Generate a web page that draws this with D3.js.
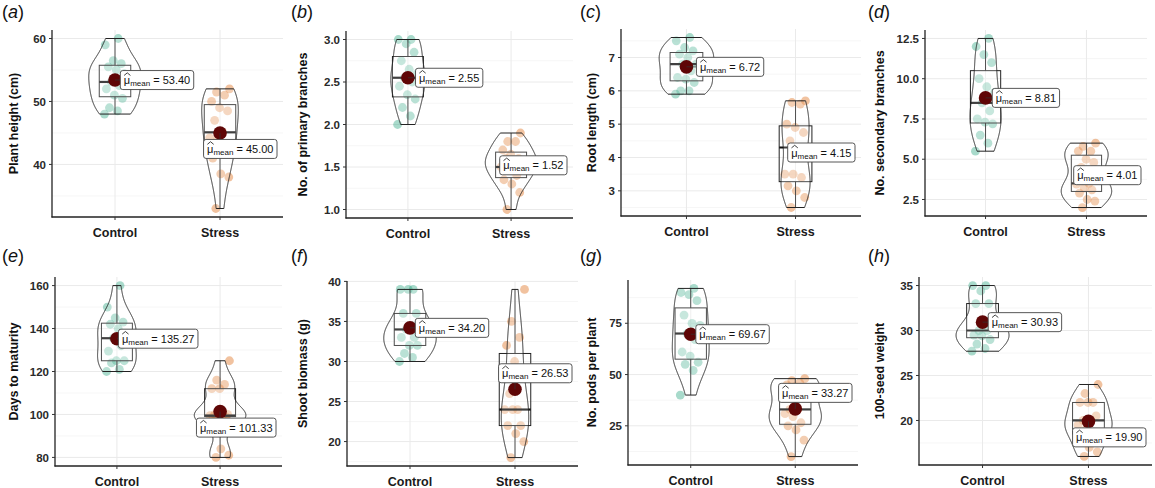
<!DOCTYPE html>
<html><head><meta charset="utf-8">
<script src="https://cdn.jsdelivr.net/npm/d3@7"></script>
<style>
body{margin:0;background:#fff}
svg{display:block}
text{font-family:"Liberation Sans",Arial,Helvetica,sans-serif}
</style>
</head><body>
<svg id="chart" width="1155" height="488"></svg>
<script>
// ---------------- data ----------------
const categories = ["Control", "Stress"];
const panelTags = ["a", "b", "c", "d", "e", "f", "g", "h"];
const yTitles = ["Plant height (cm)", "No. of primary branches", "Root length (cm)", "No. secondary branches",
                 "Days to maturity", "Shoot biomass (g)", "No. pods per plant", "100-seed weight"];

const controlValues = [
  [48, 48.5, 49, 50.5, 51, 52, 52.5, 53.1, 54.4, 55, 55.5, 56, 56.5, 59, 60],
  [2.0, 2.1, 2.2, 2.3, 2.35, 2.45, 2.5, 2.55, 2.6, 2.65, 2.75, 2.85, 2.95, 3.0, 3.0],
  [5.9, 6.0, 6.0, 6.25, 6.35, 6.4, 6.6, 6.8, 6.8, 7.0, 7.1, 7.2, 7.3, 7.5, 7.6],
  [5.5, 6.0, 6.5, 7.2, 7.3, 7.5, 8.0, 8.5, 9.15, 9.5, 10.0, 11.0, 11.5, 12.0, 12.5],
  [120, 121, 124, 125, 125, 129.5, 132, 135.5, 137, 140, 142, 143, 145, 150, 160],
  [30, 30.5, 31, 32, 32, 33, 33, 34, 34, 34.5, 36, 36, 39, 39, 39],
  [40, 52, 55, 56, 59, 61, 67, 70, 74, 75, 79, 86, 89, 90, 92],
  [27.7, 28, 28.5, 29, 29.4, 29.5, 30, 30, 30.5, 31, 33, 33, 34.4, 35, 35]
];
const stressValues = [
  [33, 38, 38.5, 41, 42.2, 44, 44.2, 45.1, 47, 48.5, 49, 50, 51, 51.5, 52],
  [1.0, 1.2, 1.3, 1.35, 1.4, 1.5, 1.5, 1.5, 1.6, 1.6, 1.65, 1.7, 1.8, 1.8, 1.9],
  [2.5, 2.8, 3.0, 3.15, 3.4, 3.5, 3.5, 4.3, 4.5, 4.75, 4.9, 5.0, 5.6, 5.65, 5.7],
  [2.0, 2.4, 2.5, 2.9, 3.1, 3.2, 3.45, 3.5, 4.5, 4.8, 5.0, 5.5, 5.5, 5.8, 6.0],
  [80, 81, 84, 99, 99, 99, 99.5, 99.5, 100, 100, 112, 112, 114, 116, 125],
  [18, 20, 21, 22, 22, 24, 24, 24, 26, 28, 30, 32, 33, 35, 39],
  [10, 18, 23, 25, 26.5, 29.5, 31, 33, 33, 40, 44, 45, 46, 47, 48],
  [16, 16.5, 17, 18.5, 18.5, 19, 19.5, 20, 20, 20.5, 22, 22, 22, 23, 24]
];
const meanValues = [
  [53.40, 45.00], [2.55, 1.52], [6.72, 4.15], [8.81, 4.01],
  [135.27, 101.33], [34.20, 26.53], [69.67, 33.27], [30.93, 19.90]
];
const yTickValues = [
  [40, 50, 60], [1.0, 1.5, 2.0, 2.5, 3.0], [3, 4, 5, 6, 7], [2.5, 5.0, 7.5, 10.0, 12.5],
  [80, 100, 120, 140, 160], [20, 25, 30, 35, 40], [25, 50, 75], [20, 25, 30, 35]
];
const yTickLabels = [
  ["40", "50", "60"], ["1.0", "1.5", "2.0", "2.5", "3.0"], ["3", "4", "5", "6", "7"],
  ["2.5", "5.0", "7.5", "10.0", "12.5"], ["80", "100", "120", "140", "160"],
  ["20", "25", "30", "35", "40"], ["25", "50", "75"], ["20", "25", "30", "35"]
];

// ---------------- layout (pixels) ----------------
const layout = [
  {x0: 0,   y0: 0,   l: 52,  r: 283,  t: 30,  b: 217, shift: [0, 1]},
  {x0: 289, y0: 0,   l: 346, r: 573,  t: 31,  b: 218, shift: [0, 0]},
  {x0: 578, y0: 0,   l: 621, r: 861,  t: 29,  b: 216, shift: [0, 0]},
  {x0: 866, y0: 0,   l: 925, r: 1147, t: 30,  b: 216, shift: [0, 0]},
  {x0: 0,   y0: 244, l: 55,  r: 282,  t: 277, b: 466, shift: [0, 1]},
  {x0: 289, y0: 244, l: 347, r: 578,  t: 281, b: 466, shift: [0, -1]},
  {x0: 578, y0: 244, l: 628, r: 858,  t: 280, b: 465, shift: [0, -1]},
  {x0: 866, y0: 244, l: 919, r: 1152, t: 277, b: 465, shift: [0, 1]}
];
const groupColors = ["#1B9E77", "#D95F02"];

// ---------------- helpers ----------------
function bwNrd0(v) {
  const s = [...v].sort(d3.ascending);
  const sd = d3.deviation(s);
  const iqr = d3.quantileSorted(s, 0.75) - d3.quantileSorted(s, 0.25);
  let lo = Math.min(sd, iqr / 1.34);
  if (!(lo > 0)) lo = sd || Math.abs(s[0]) || 1;
  return 0.9 * lo * Math.pow(s.length, -0.2);
}
function kde(v, bw, ys) {
  const c = 1 / (bw * Math.sqrt(2 * Math.PI));
  return ys.map(y => c * d3.mean(v, x => Math.exp(-0.5 * ((y - x) / bw) ** 2)));
}

const svg = d3.select("#chart");

panelTags.forEach((tag, p) => {
  const L = layout[p];
  const groups = [controlValues[p], stressValues[p]];
  const all = groups.flat();
  const [mn, mx] = d3.extent(all);
  const pad = (mx - mn) * 0.05;
  const y = d3.scaleLinear().domain([mn - pad, mx + pad]).range([L.b, L.t]);
  const x = d3.scalePoint().domain(categories).range([L.l, L.r]).padding(0.6);
  const unit = x.step();

  const g = svg.append("g");

  // grid
  const ticks = yTickValues[p];
  const step = ticks[1] - ticks[0];
  const minor = [];
  for (let v = ticks[0] - step / 2; v <= y.domain()[1]; v += step) {
    if (v >= y.domain()[0]) minor.push(v);
  }
  g.selectAll(".minor").data(minor).join("line")
    .attr("x1", L.l).attr("x2", L.r).attr("y1", d => y(d)).attr("y2", d => y(d))
    .attr("stroke", "#F4F4F4").attr("stroke-width", 0.8);
  g.selectAll(".major").data(ticks).join("line")
    .attr("x1", L.l).attr("x2", L.r).attr("y1", d => y(d)).attr("y2", d => y(d))
    .attr("stroke", "#EAEAEA").attr("stroke-width", 1);
  g.selectAll(".vmajor").data(categories).join("line")
    .attr("x1", d => x(d)).attr("x2", d => x(d)).attr("y1", L.t).attr("y2", L.b)
    .attr("stroke", "#EAEAEA").attr("stroke-width", 1);

  // points
  groups.forEach((vals, gi) => {
    const cx = x(categories[gi]);
    g.selectAll(null).data(vals).join("circle")
      .attr("cx", (d, i) => cx + (((i * 0.618034 + 0.3 * gi) % 1) - 0.5) * 0.2 * unit)
      .attr("cy", d => y(d))
      .attr("r", 4.4)
      .attr("fill", groupColors[gi]).attr("fill-opacity", 0.38);
  });

  // boxplots
  groups.forEach((vals, gi) => {
    const cx = x(categories[gi]);
    const s = [...vals].sort(d3.ascending);
    const q1 = d3.quantileSorted(s, 0.25), med = d3.quantileSorted(s, 0.5), q3 = d3.quantileSorted(s, 0.75);
    const iqr = q3 - q1;
    const lo = d3.min(s.filter(v => v >= q1 - 1.5 * iqr));
    const hi = d3.max(s.filter(v => v <= q3 + 1.5 * iqr));
    const hw = 0.15 * unit;
    g.append("line").attr("x1", cx).attr("x2", cx).attr("y1", y(q3)).attr("y2", y(hi))
      .attr("stroke", "#222").attr("stroke-width", 1);
    g.append("line").attr("x1", cx).attr("x2", cx).attr("y1", y(q1)).attr("y2", y(lo))
      .attr("stroke", "#222").attr("stroke-width", 1);
    g.append("rect").attr("x", cx - hw).attr("width", 2 * hw)
      .attr("y", y(q3)).attr("height", y(q1) - y(q3))
      .attr("fill", "#fff").attr("fill-opacity", 0.2).attr("stroke", "#222").attr("stroke-width", 1);
    g.append("line").attr("x1", cx - hw).attr("x2", cx + hw).attr("y1", y(med)).attr("y2", y(med))
      .attr("stroke", "#111").attr("stroke-width", 2.2);
  });

  // violins (scale = "area": common density max)
  const dens = groups.map(vals => {
    const [a, b] = d3.extent(vals);
    const bw = bwNrd0(vals);
    const ys = d3.range(512).map(i => a + (b - a) * i / 511);
    const ds = kde(vals, bw, ys);
    return ys.map((v, i) => ({v, d: ds[i]}));
  });
  const dmax = d3.max(dens.flat(), e => e.d);
  dens.forEach((arr, gi) => {
    const cx = x(categories[gi]);
    const area = d3.area()
      .y(e => y(e.v))
      .x0(e => cx - e.d / dmax * 0.25 * unit)
      .x1(e => cx + e.d / dmax * 0.25 * unit);
    g.append("path").attr("d", area(arr))
      .attr("fill", "#fff").attr("fill-opacity", 0.2)
      .attr("stroke", "#222").attr("stroke-width", 1).attr("stroke-linejoin", "round");
  });

  // axes
  g.append("line").attr("x1", L.l).attr("x2", L.l).attr("y1", L.t).attr("y2", L.b + 0.5)
    .attr("stroke", "#222").attr("stroke-width", 1.3);
  g.append("line").attr("x1", L.l - 0.5).attr("x2", L.r).attr("y1", L.b).attr("y2", L.b)
    .attr("stroke", "#222").attr("stroke-width", 1.3);
  g.selectAll(".yt").data(ticks).join("line")
    .attr("x1", L.l - 3).attr("x2", L.l).attr("y1", d => y(d)).attr("y2", d => y(d))
    .attr("stroke", "#333").attr("stroke-width", 1);
  g.selectAll(".ytl").data(ticks).join("text")
    .attr("x", L.l - 6).attr("y", d => y(d)).attr("dy", "0.36em")
    .attr("text-anchor", "end").attr("font-size", 11.5).attr("font-weight", "bold").attr("fill", "#2a2a2a")
    .text((d, i) => yTickLabels[p][i]);
  g.selectAll(".xt").data(categories).join("line")
    .attr("x1", d => x(d)).attr("x2", d => x(d)).attr("y1", L.b).attr("y2", L.b + 3)
    .attr("stroke", "#333").attr("stroke-width", 1);
  g.selectAll(".xtl").data(categories).join("text")
    .attr("x", d => x(d)).attr("y", L.b + 20)
    .attr("text-anchor", "middle").attr("font-size", 12.5).attr("font-weight", "bold").attr("fill", "#1a1a1a")
    .text(d => d);

  // y title
  g.append("text")
    .attr("transform", `translate(${L.x0 + 18},${(L.t + L.b) / 2}) rotate(-90)`)
    .attr("text-anchor", "middle").attr("font-size", 12.5).attr("font-weight", "bold").attr("fill", "#111")
    .text(yTitles[p]);

  // panel tag
  const tg = g.append("text").attr("x", L.x0 + 2).attr("y", L.y0 + 18)
    .attr("font-size", 18).attr("fill", "#111");
  tg.append("tspan").text("(");
  tg.append("tspan").attr("font-style", "italic").text(tag);
  tg.append("tspan").text(")");

  // mean points (below) and labels (above)
  const mg = g.append("g");
  const lg = g.append("g");
  meanValues[p].forEach((m, gi) => {
    const cx = x(categories[gi]), cy = y(m);
    mg.append("circle").attr("cx", cx).attr("cy", cy).attr("r", 6.8).attr("fill", "#5f0606");

    const lab = lg.append("g");
    const t = lab.append("text").attr("font-size", 11).attr("fill", "#111");
    t.append("tspan").text("\u03BC");
    t.append("tspan").attr("font-size", 8).attr("dy", 2).text("mean");
    t.append("tspan").attr("dy", -2).text(" = " + m.toFixed(2));
    const bb = t.node().getBBox();
    const muW = t.node().getSubStringLength(0, 1);
    const w = bb.width + 7, h = 19;
    let lx = cx + 0.4 * unit;
    lx = Math.min(lx, L.r - 6 - w / 2);
    const ly = cy + L.shift[gi] * 16;
    const tx = lx - w / 2 + 3.5, by = ly + 4;
    // segment from point to label
    const nx = Math.max(lx - w / 2, Math.min(cx, lx + w / 2));
    const ny = Math.max(ly - h / 2, Math.min(cy, ly + h / 2));
    lg.insert("line", ":first-child").attr("x1", cx).attr("y1", cy).attr("x2", nx).attr("y2", ny)
      .attr("stroke", "#333").attr("stroke-width", 0.7);
    lab.insert("rect", "text")
      .attr("x", lx - w / 2).attr("y", ly - h / 2).attr("width", w).attr("height", h)
      .attr("rx", 2.5).attr("fill", "#fff").attr("stroke", "#444").attr("stroke-width", 0.9);
    t.attr("x", tx).attr("y", by);
    // hat over mu
    lab.append("path")
      .attr("d", `M${tx + 0.3},${by - 8.6} L${tx + muW / 2 + 0.3},${by - 11.2} L${tx + muW + 0.3},${by - 8.6}`)
      .attr("fill", "none").attr("stroke", "#111").attr("stroke-width", 0.8);
  });
});
</script>
</body></html>
